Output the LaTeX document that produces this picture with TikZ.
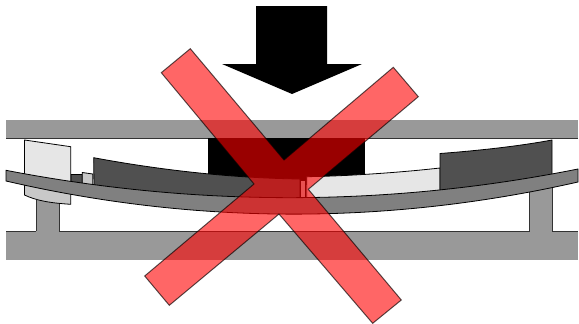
\documentclass[tikz,border=0pt]{standalone}
\usepackage{xcolor}
\definecolor{bargray}{HTML}{999999}
\definecolor{beamgray}{HTML}{808080}
\definecolor{darkx}{HTML}{505050}
\definecolor{lightx}{HTML}{E6E6E6}
\definecolor{softx}{HTML}{C8C8C8}
\definecolor{edgex}{HTML}{333333}
\tikzset{
  part/.style={draw=black,line width=0.8pt,line join=miter},
  bar/.style={fill=bargray},
  cross/.style={draw=black,draw opacity=0.65,line width=1pt,fill=red,fill opacity=0.6}
}
\begin{document}
\begin{tikzpicture}[x=1pt,y=-1pt]
\useasboundingbox (0,0) rectangle (579,324);
% load arrow
\fill[black] (256,6)--(327,6)--(327,64)--(362,64)--(292,94)--(222,64)--(256,64)--cycle;
% frame
\fill[bar] (6,120) rectangle (578,138);
\draw[edgex,line width=0.8pt] (6,138)--(578,138);
\fill[black] (208,138) rectangle (365,185);
\fill[bar] (6,231) rectangle (578,260);
\fill[bar] (36,200) rectangle (59.5,232);
\fill[bar] (529,185) rectangle (552,232);
\draw[edgex,line width=0.8pt] (59.5,200)--(59.5,231)--(529,231)--(529,190);
\draw[edgex,line width=0.8pt] (36,200)--(36,231);
\draw[edgex,line width=0.8pt] (552,180)--(552,231)--(578,231);
\draw[edgex,line width=0.8pt] (6,231)--(36,231);
% blocks on the beam
\draw[part,fill=softx] (24.5,180)--(24.5,195) .. controls (36,200.5) and (50,203) .. (70.7,204.3)--(70.7,185)--cycle;
\draw[part,fill=darkx] (71,174.5)--(82.3,174.5)--(82.3,190)--(71,188)--cycle;
\draw[part,fill=softx] (82.3,172.5)--(92.7,174)--(92.7,190)--(82.3,188)--cycle;
\draw[part,fill=lightx] (24.5,140)--(70.7,146.7)--(70.7,187)--(24.5,180)--cycle;
\draw[part,fill=darkx] (93.7,157.7) .. controls (160,170) and (230,178) .. (300,179)--(300,203)--(94,190)--cycle;
\draw[part,fill=softx] (300.7,180.7)--(305.7,180.7)--(305.7,203)--(300.7,203)--cycle;
\draw[part,fill=lightx] (306.7,176.7) .. controls (350,176) and (400,172.5) .. (440,168)--(440,197)--(306.7,203)--cycle;
\draw[part,fill=darkx] (440,153.5) .. controls (480,150.5) and (520,146) .. (552,140)--(552,180)--(440,197)--cycle;
% beam
\draw[part,fill=beamgray] (6,170.3) .. controls (196,207) and (388,207) .. (578,169)--(578,182) .. controls (388,225) and (196,225) .. (6,181)--cycle;
% cross
\path[cross] (190.3,48.7)--(284,160)--(393.3,67.3)--(418.3,96.7)--(308.3,189.3)--(401.3,300)--(372.7,323.3)--(279,214)--(169.3,305.3)--(144.7,276)--(254,184)--(161.3,72.7)--cycle;
\end{tikzpicture}
\end{document}
